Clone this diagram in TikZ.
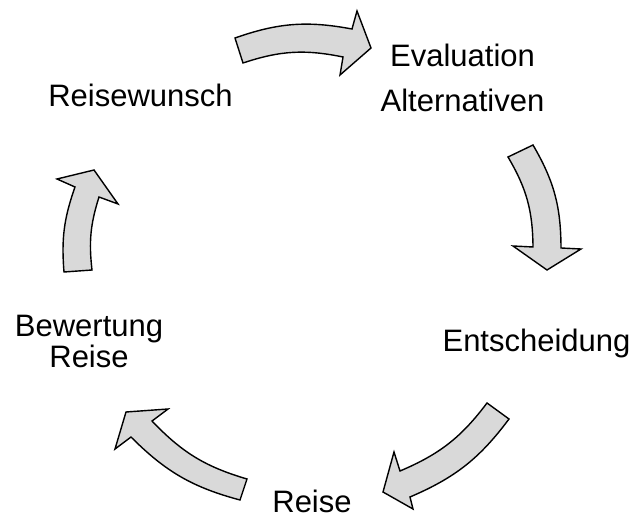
\documentclass[tikz,border=0pt]{standalone}
\usepackage{fontspec}
\setmainfont{Liberation Sans}
\begin{document}
\begin{tikzpicture}[x=1pt,y=-1pt,
  blockarrow/.style={draw=black,fill=black!15,line width=1.4pt,line join=miter},
  lbl/.style={anchor=base,inner sep=0pt,font=\fontsize{31}{31}\selectfont}]
\useasboundingbox (0,0) rectangle (634,518);

% stage labels
\node[lbl] (wunsch) at (140.5,107) {Reisewunsch};
\node[lbl] (eval1) at (462.5,67) {Evaluation};
\node[lbl] (eval2) at (462.5,112) {Alternativen};
\node[lbl] (entsch) at (536.5,352) {Entscheidung};
\node[lbl] (reise) at (312,512) {Reise};
\node[lbl] (bew1) at (89,336) {Bewertung};
\node[lbl] (bew2) at (89,367) {Reise};

% curved block arrows around the cycle
\draw[blockarrow] (235,38) to[bend left=15] (352,29) -- (357,11) -- (371,48)
  -- (340,75) -- (343,57) to[bend right=15] (243,63) -- cycle;
\draw[blockarrow] (533,145) to[bend left=15] (561,248) -- (581,249) -- (547,270)
  -- (513,246) -- (533,247) to[bend right=15] (508,157) -- cycle;
\draw[blockarrow] (487,403) to[bend left=15] (400,471) -- (394,452) -- (383,492)
  -- (413,509) -- (410,497) to[bend right=15] (509,419) -- cycle;
\draw[blockarrow] (247,479) to[bend left=15] (152,421) -- (168,409) -- (126,412)
  -- (115,449) -- (131,437) to[bend right=15] (240,500) -- cycle;
\draw[blockarrow] (64,272) to[bend left=12] (75,187) -- (57,179) -- (94,170)
  -- (118,204) -- (99,197) to[bend right=12] (92,270) -- cycle;
\end{tikzpicture}
\end{document}
